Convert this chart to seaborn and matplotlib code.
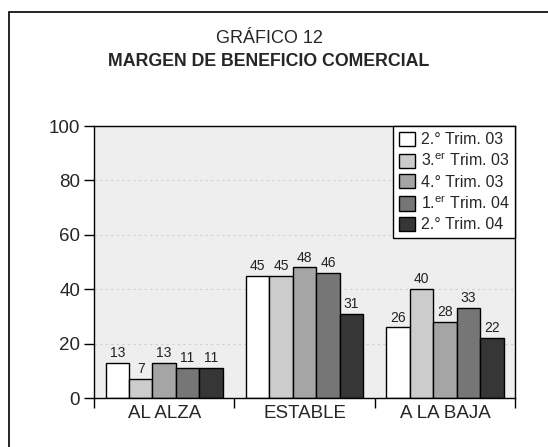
import pandas as pd
import matplotlib
matplotlib.use('Agg')
import matplotlib.pyplot as plt
import matplotlib.patches as mpatches
import seaborn as sns

sns.set_style('white')
plt.rcParams['font.family'] = ['Liberation Sans', 'DejaVu Sans']
plt.rcParams['mathtext.fontset'] = 'custom'
plt.rcParams['mathtext.rm'] = 'Liberation Sans'
plt.rcParams['mathtext.it'] = 'Liberation Sans'

# datos
categorias = ['AL ALZA', 'ESTABLE', 'A LA BAJA']
periodos = [r'2.° Trim. 03', r'3.$^{\rm er}$ Trim. 03', r'4.° Trim. 03',
            r'1.$^{\rm er}$ Trim. 04', r'2.° Trim. 04']
t2_03 = [13, 45, 26]
t3_03 = [7, 45, 40]
t4_03 = [13, 48, 28]
t1_04 = [11, 46, 33]
t2_04 = [11, 31, 22]
colores = ['#ffffff', '#cccccc', '#a5a5a5', '#767676', '#363636']

series = [t2_03, t3_03, t4_03, t1_04, t2_04]
filas = []
for p, vals in zip(periodos, series):
    for c, v in zip(categorias, vals):
        filas.append({'categoria': c, 'periodo': p, 'valor': v})
df = pd.DataFrame(filas)

fig = plt.figure(figsize=(5.48, 4.47), dpi=100)
ax = fig.add_axes([0.1715, 0.1096, 0.7685, 0.6084])

sns.barplot(data=df, x='categoria', y='valor', hue='periodo', order=categorias,
            hue_order=periodos, palette=colores, width=0.835, gap=0,
            edgecolor='black', linewidth=1, ax=ax, saturation=1, errorbar=None)

for cont in ax.containers:
    ax.bar_label(cont, fontsize=10, padding=2, color='#222222')

ax.set_facecolor('#eeeeee')
ax.set_xlim(-0.5, 2.5)
ax.set_ylim(0, 100)
ax.set_yticks(range(0, 101, 20))
ax.set_xlabel('')
ax.set_ylabel('')
ax.yaxis.grid(True, linestyle=(0, (2, 3)), color='#cfcfcf', linewidth=0.8)
ax.set_axisbelow(True)

# marcas del eje x entre grupos
ax.set_xticks([-0.5, 0.5, 1.5, 2.5])
ax.set_xticklabels([])
ax.set_xticks([0, 1, 2], minor=True)
ax.set_xticklabels(categorias, minor=True, fontsize=13.5)
ax.tick_params(axis='x', which='major', length=7, width=1, direction='out', color='black')
ax.tick_params(axis='x', which='minor', length=0, pad=5)
ax.tick_params(axis='y', length=7, width=1, direction='out', color='black', labelsize=13.5, pad=3)
ax.tick_params(bottom=True, left=True)

for s in ax.spines.values():
    s.set_visible(True)
    s.set_color('black')
    s.set_linewidth(1)

leg = ax.legend(loc='upper right', fontsize=11.5, frameon=True, fancybox=False,
                edgecolor='black', framealpha=1, borderaxespad=0,
                handlelength=1.0, handleheight=1.0, handletextpad=0.4,
                labelspacing=0.3, borderpad=0.35, title=None)
leg.get_frame().set_linewidth(1)

fig.text(0.491, 0.914, 'GRÁFICO 12', ha='center', va='center', fontsize=13)
fig.text(0.491, 0.862, 'MARGEN DE BENEFICIO COMERCIAL', ha='center', va='center',
         fontsize=12.8, fontweight='bold')

marco = mpatches.Rectangle((9 / 548, -0.1), 1.2, 1 - 12 / 447 + 0.1,
                           transform=fig.transFigure, fill=False,
                           edgecolor='black', linewidth=1.2, clip_on=False)
fig.patches.append(marco)

plt.savefig('out.png', dpi=100)
